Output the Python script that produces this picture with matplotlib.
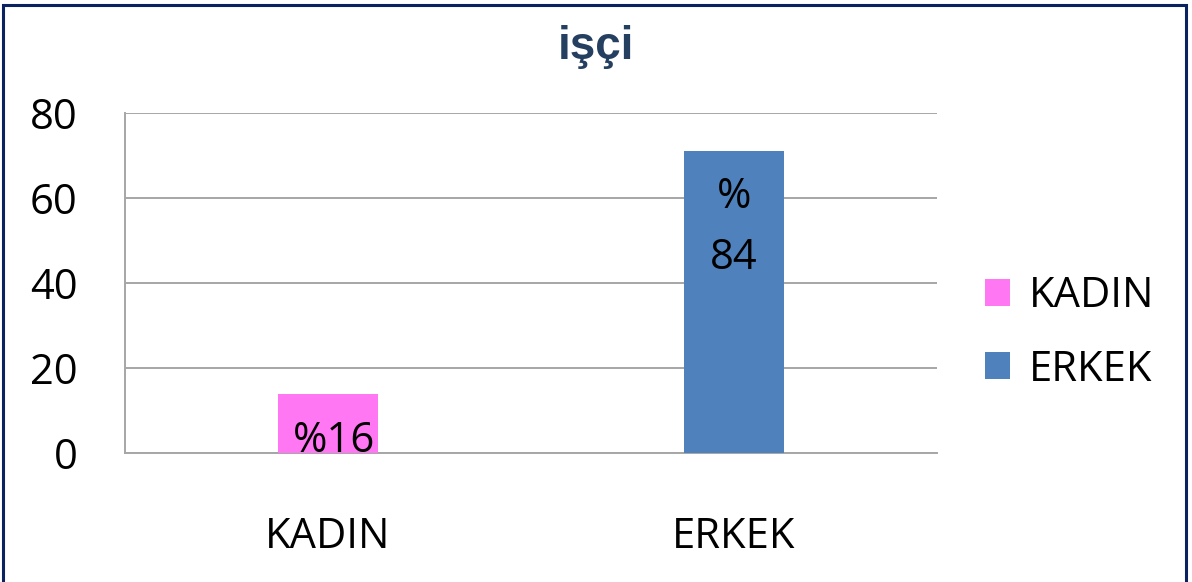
import matplotlib
matplotlib.use('Agg')
import matplotlib.pyplot as plt
from matplotlib.patches import Rectangle, Patch

categories = ["KADIN", "ERKEK"]
values = [14, 71]
bar_labels = ["%16", "%\n84"]
label_y = [2.8, 53.0]
colors = ["#FF77F2", "#4F81BD"]
y_ticks = [0, 20, 40, 60, 80]

plt.rcParams['font.family'] = ['Open Sans', 'DejaVu Sans']

fig = plt.figure(figsize=(11.92, 5.82), dpi=100)
ax = fig.add_axes([125 / 1192, 1 - 453 / 582, 812 / 1192, 340 / 582])

x = range(len(categories))
ax.bar(x, values, width=0.246, color=colors, zorder=3)

for i, (lab, ly) in enumerate(zip(bar_labels, label_y)):
    ax.text(i + 0.015 * (i == 0), ly, lab, ha='center', va='center',
            fontsize=30, color='black', zorder=4, linespacing=1.6)

ax.set_xlim(-0.5, 1.5)
ax.set_ylim(0, 80)
ax.set_yticks(y_ticks)
ax.set_xticks(list(x))
ax.set_xticklabels(categories)
ax.tick_params(axis='y', length=0, labelsize=30, pad=34)
ax.tick_params(axis='x', length=0, labelsize=30, pad=45)
ax.grid(axis='y', color='#A6A6A6', linewidth=1.4, zorder=0)

for s in ['top', 'right']:
    ax.spines[s].set_visible(False)
for s in ['left', 'bottom']:
    ax.spines[s].set_color('#A6A6A6')
    ax.spines[s].set_linewidth(1.4)

fig.text(0.5, 1 - 47 / 582, "işçi", ha='center', va='center', fontsize=33,
         fontweight='bold', color='#243F60', family=['Liberation Sans', 'DejaVu Sans'])

handles = [Patch(facecolor=c, edgecolor='none') for c in colors]
fig.legend(handles, categories, loc='center left',
           bbox_to_anchor=(947 / 1192, 1 - 333 / 582), frameon=False,
           fontsize=30, handlelength=0.62, handleheight=0.62,
           handletextpad=0.45, labelspacing=0.75)

fig.patches.append(Rectangle((3 / 1192, -0.02), 1183 / 1192, 1 - 5 / 582 + 0.02,
                             transform=fig.transFigure, fill=False,
                             edgecolor='#0B2260', linewidth=2.2))

fig.savefig("out.png", dpi=100)
